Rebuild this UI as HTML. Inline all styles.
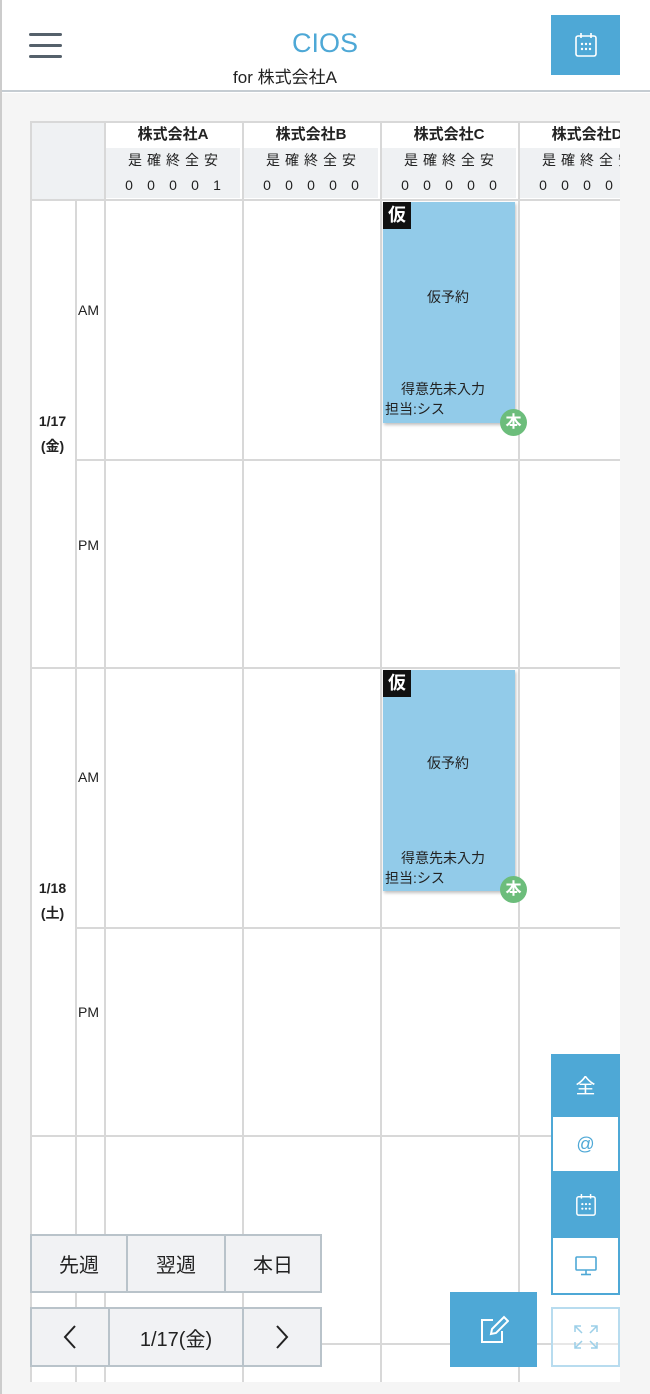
<!DOCTYPE html>
<html><head><meta charset="utf-8"><style>
*{box-sizing:border-box;margin:0;padding:0}
body{width:650px;height:1394px;position:relative;overflow:hidden;background:#fff;font-family:"Liberation Sans","Noto Sans CJK JP",sans-serif;color:#222}
.a{position:absolute}
.vl{position:absolute;width:2px;background:#d8d8d8}
.hl{position:absolute;height:2px;background:#d8d8d8}
.gc{position:absolute;background:#eff1f3;font-size:14px;text-align:center;color:#222}
.btn{position:absolute;background:#f1f2f4;border:2px solid #b9c3ca;display:flex;align-items:center;justify-content:center;font-size:20px;color:#222}
.sb{position:absolute;left:551px;width:69px;display:flex;align-items:center;justify-content:center;color:#fff;font-size:20px}
.blue{background:#4ea8d6}
.wht{background:#fff;border:2px solid #4ea8d6;color:#4ea8d6}
.ev{position:absolute;left:383px;width:132px;height:221px;background:#92cbe9;box-shadow:1px 2px 3px rgba(0,0,0,.25);font-size:14px}
</style></head><body>
<div class="a" style="left:0;top:0;width:2px;height:1394px;background:#ccc"></div>
<div class="a" style="left:2px;top:0;width:648px;height:92px;border-bottom:2px solid #c5ccd2;background:#fff"></div>
<div class="a" style="left:29px;top:33px;width:33px;height:26px">
<div class="a" style="top:0;width:33px;height:3px;background:#55616b;border-radius:2px"></div>
<div class="a" style="top:11px;width:33px;height:3px;background:#55616b;border-radius:2px"></div>
<div class="a" style="top:22px;width:33px;height:3px;background:#55616b;border-radius:2px"></div></div>
<div class="a" style="left:250px;top:28px;width:150px;text-align:center;font-size:27px;color:#4ea8d6">CIOS</div>
<div class="a" style="left:200px;top:63px;width:170px;text-align:center;font-size:17px">for 株式会社A</div>
<div class="sb blue" style="top:15px;height:60px"><svg width="24" height="26" viewBox="0 0 24 26"><rect x="2" y="4" width="20" height="20" rx="2" fill="none" stroke="#fff" stroke-width="1.6"/><line x1="7" y1="1" x2="7" y2="6" stroke="#fff" stroke-width="1.6"/><line x1="17" y1="1" x2="17" y2="6" stroke="#fff" stroke-width="1.6"/><g fill="#fff"><circle cx="8" cy="12" r="1.2"/><circle cx="12" cy="12" r="1.2"/><circle cx="16" cy="12" r="1.2"/><circle cx="8" cy="17" r="1.2"/><circle cx="12" cy="17" r="1.2"/><circle cx="16" cy="17" r="1.2"/></g></svg></div>

<div class="a" style="left:2px;top:93px;width:648px;height:1301px;background:#f5f5f5"></div>
<div class="a" style="left:30px;top:121px;width:590px;height:1261px;background:#fff;overflow:hidden">
<div class="a" style="left:0;top:0;width:74px;height:79px;background:#eff1f3"></div>
<div id="hdr"></div>
</div>
<div id="grid"></div>

<div class="ev" style="top:202px">
<div class="a" style="left:0;top:0;width:28px;height:27px;background:#111;color:#fff;font-weight:bold;font-size:18px;text-align:center;line-height:27px">仮</div>
<div class="a" style="left:0;top:85px;width:130px;text-align:center">仮予約</div>
<div class="a" style="left:18px;top:177px">得意先未入力</div>
<div class="a" style="left:2px;top:197px">担当:シス</div></div>
<div class="a" style="left:500px;top:409px;width:27px;height:27px;border-radius:50%;background:#6cbd7b;color:#fff;font-weight:bold;font-size:16px;text-align:center;line-height:27px">本</div>
<div class="ev" style="top:670px">
<div class="a" style="left:0;top:0;width:28px;height:27px;background:#111;color:#fff;font-weight:bold;font-size:18px;text-align:center;line-height:27px">仮</div>
<div class="a" style="left:0;top:83px;width:130px;text-align:center">仮予約</div>
<div class="a" style="left:18px;top:178px">得意先未入力</div>
<div class="a" style="left:2px;top:198px">担当:シス</div></div>
<div class="a" style="left:500px;top:876px;width:27px;height:27px;border-radius:50%;background:#6cbd7b;color:#fff;font-weight:bold;font-size:16px;text-align:center;line-height:27px">本</div>

<div class="sb blue" style="top:1054px;height:61px">全</div>
<div class="sb wht" style="top:1115px;height:58px;font-size:18px">@</div>
<div class="sb blue" style="top:1173px;height:63px"><svg width="22" height="24" viewBox="0 0 24 26"><rect x="2" y="4" width="20" height="20" rx="2" fill="none" stroke="#fff" stroke-width="1.6"/><line x1="7" y1="1" x2="7" y2="6" stroke="#fff" stroke-width="1.6"/><line x1="17" y1="1" x2="17" y2="6" stroke="#fff" stroke-width="1.6"/><g fill="#fff"><circle cx="8" cy="12" r="1.2"/><circle cx="12" cy="12" r="1.2"/><circle cx="16" cy="12" r="1.2"/><circle cx="8" cy="17" r="1.2"/><circle cx="12" cy="17" r="1.2"/><circle cx="16" cy="17" r="1.2"/></g></svg></div>
<div class="sb wht" style="top:1236px;height:59px"><svg width="24" height="22" viewBox="0 0 24 22"><rect x="2" y="2" width="20" height="13" rx="1" fill="none" stroke="#4ea8d6" stroke-width="1.6"/><line x1="12" y1="15" x2="12" y2="19" stroke="#4ea8d6" stroke-width="1.6"/><line x1="7" y1="19.5" x2="17" y2="19.5" stroke="#4ea8d6" stroke-width="1.6"/></svg></div>
<div class="sb" style="top:1307px;height:60px;border:2px solid #b8dcef;background:rgba(255,255,255,.4)"><svg width="26" height="26" viewBox="0 0 26 26" stroke="#9ccfe8" stroke-width="1.5" fill="none"><path d="M2 8V2h6M2 2l7 7M24 8V2h-6M24 2l-7 7M2 18v6h6M2 24l7-7M24 18v6h-6M24 24l-7-7"/></svg></div>
<div class="a blue" style="left:450px;top:1292px;width:87px;height:75px;display:flex;align-items:center;justify-content:center"><svg width="30" height="30" viewBox="0 0 30 30" fill="none" stroke="#fff" stroke-width="2"><path d="M14 5H3v22h20V16"/><path d="M12 19l1-5 12-12 4 4-12 12z"/></svg></div>

<div class="btn" style="left:30px;top:1234px;width:98px;height:59px">先週</div>
<div class="btn" style="left:126px;top:1234px;width:100px;height:59px">翌週</div>
<div class="btn" style="left:224px;top:1234px;width:98px;height:59px">本日</div>
<div class="btn" style="left:30px;top:1307px;width:80px;height:60px"><svg width="14" height="26" viewBox="0 0 14 26"><path d="M12 2L2 13l10 11" fill="none" stroke="#222" stroke-width="2"/></svg></div>
<div class="btn" style="left:108px;top:1307px;width:136px;height:60px">1/17(金)</div>
<div class="btn" style="left:242px;top:1307px;width:80px;height:60px"><svg width="14" height="26" viewBox="0 0 14 26"><path d="M2 2l10 11L2 24" fill="none" stroke="#222" stroke-width="2"/></svg></div>

<script>
const companies=["株式会社A","株式会社B","株式会社C","株式会社D"];
const counts=[["0","0","0","0","1"],["0","0","0","0","0"],["0","0","0","0","0"],["0","0","0","0","0"]];
const days=[["1/17","(金)",200],["1/18","(土)",667],["",'',1135]];
const g=document.getElementById('grid');
const hdr=document.getElementById('hdr');
function add(html,parent){const t=document.createElement('div');t.innerHTML=html;const e=t.firstChild;if(parent){parent.parentNode.insertBefore(e,parent);}else{g.parentNode.insertBefore(e,g);}return e;}
const colX=[104,242,380,518];
companies.forEach((c,i)=>{
 const x=colX[i]-30;
 let e=add(`<div class="a" style="left:${x}px;top:0px;width:138px;height:27px;font-weight:bold;font-size:15px;text-align:center;line-height:27px;white-space:nowrap">${c}</div>`,hdr);
 
 
 const s=counts[i].map(v=>`<span style="display:inline-block;width:22px;text-align:center">${v}</span>`).join('');
 const l="是確終全安".split('').map(v=>`<span style="display:inline-block;width:19px;text-align:center">${v}</span>`).join('');
 e=add(`<div class="gc" style="left:${x+2}px;top:27px;width:134px;height:50px;white-space:nowrap"><div style="height:25px;line-height:25px">${l}</div><div style="height:25px;line-height:25px">${s}</div></div>`,hdr);
 
 
});
[[75,200],[104,121],[242,121],[380,121],[518,121]].forEach(v=>{const e=add(`<div class="vl" style="left:${v[0]}px;top:${v[1]}px;height:${1382-v[1]}px"></div>`);});
let e=add(`<div class="vl" style="left:30px;top:121px;height:1261px"></div>`);


[[121,30],[199,30],[459,75],[667,30],[927,75],[1135,30],[1343,75]].forEach(h=>{const e=add(`<div class="hl" style="left:${h[1]}px;top:${h[0]}px;width:${620-h[1]}px"></div>`);});
days.forEach(d=>{
 const y=d[2];
 if(d[0]){let e=add(`<div class="a" style="left:30px;top:${y+209}px;width:45px;text-align:center;font-weight:bold;font-size:14px;line-height:25px">${d[0]}<br>${d[1]}</div>`);
 
 }
 let a=add(`<div class="a" style="left:78px;top:${y+102}px;font-size:14px">AM</div>`);
 
 
 if(d[0]){let p=add(`<div class="a" style="left:78px;top:${y+337}px;font-size:14px">PM</div>`);
 
 }
});
</script>
</body></html>
